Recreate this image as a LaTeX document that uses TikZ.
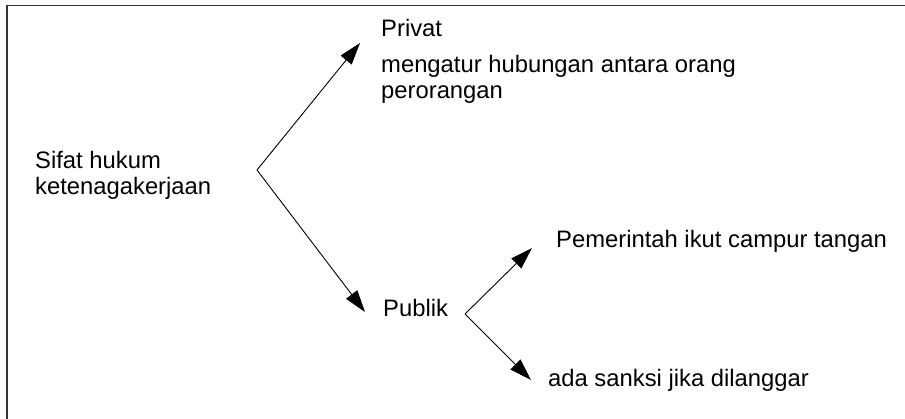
\documentclass[tikz,border=0pt]{standalone}
\usepackage{fontspec}
\setmainfont{Liberation Sans}
\usetikzlibrary{arrows.meta}
\begin{document}
\begin{tikzpicture}[x=1pt,y=-1pt,
  txt/.style={anchor=base west, inner sep=0pt, align=left,
              font=\fontsize{23.8}{26}\selectfont},
  branch/.style={draw=black, line width=0.9pt,
                 -{Triangle[length=22pt,width=14pt]}},
]
\useasboundingbox (0,0) rectangle (905,419);
% frame, running off the right and bottom edges
\begin{scope}
  \clip (0,0) rectangle (905,419);
  \draw[line width=1.6pt, draw=black!80] (7,5.5) rectangle (930,440);
\end{scope}

% texts (a two-line node sits on the baseline of its last line)
\node[txt] (sifat)    at (35,195)  {Sifat hukum\\ketenagakerjaan};
\node[txt] (privat)   at (381,37)  {Privat};
\node[txt] (privdesc) at (381,99)  {mengatur hubungan antara orang\\perorangan};
\node[txt] (publik)   at (383,317) {Publik};
\node[txt] (campur)   at (556,248) {Pemerintah ikut campur tangan};
\node[txt] (sanksi)   at (548,387) {ada sanksi jika dilanggar};

% fork points and arrow tips
\coordinate (fork1)    at (257,170);
\coordinate (toPrivat) at (360,43);
\coordinate (toPublik) at (365,312);
\coordinate (fork2)    at (465,314);
\coordinate (toCampur) at (532,248);
\coordinate (toSanksi) at (531,380);

\draw[branch] (fork1) -- (toPrivat);
\draw[branch] (fork1) -- (toPublik);
\draw[branch] (fork2) -- (toCampur);
\draw[branch] (fork2) -- (toSanksi);
\end{tikzpicture}
\end{document}
